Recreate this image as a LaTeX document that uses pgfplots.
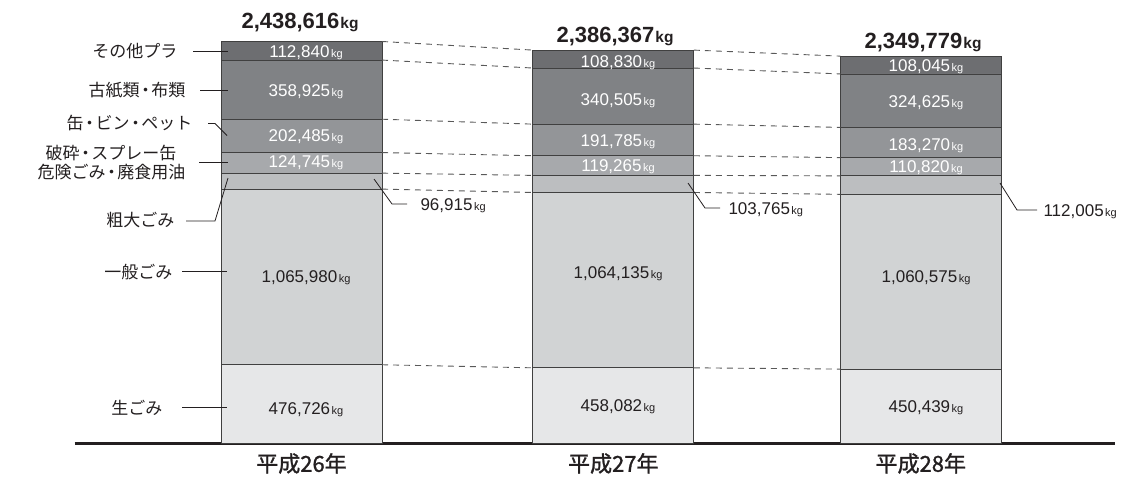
\documentclass[border=0pt]{standalone}
\usepackage{fontspec}
\setmainfont{Liberation Sans}
\newfontfamily\jp{Noto Sans CJK JP}
\newfontfamily\jpm{Noto Sans CJK JP}[FakeBold=1.2]
\usepackage{pgfplots}
\pgfplotsset{compat=1.18}

\definecolor{s1}{HTML}{E6E7E8}% 生ごみ
\definecolor{s2}{HTML}{D1D3D4}% 一般ごみ
\definecolor{s3}{HTML}{BCBEC0}% 粗大ごみ
\definecolor{s4}{HTML}{A7A9AC}% 危険ごみ
\definecolor{s5}{HTML}{939598}% 缶・ビン
\definecolor{s6}{HTML}{808285}% 古紙類
\definecolor{s7}{HTML}{6D6E71}% その他プラ
\definecolor{ink}{HTML}{231F20}

\newcommand\numf{\fontsize{17}{17}\selectfont}
\newcommand\kg{\kern1.5pt{\fontsize{11}{11}\selectfont kg}}
\newcommand\lab{\jp\fontsize{17}{17}\selectfont}
\newcommand\dt{\kern-.15em・\kern-.15em}

\pgfplotsset{
  base/.style={
    scale only axis, width=1040.3pt, height=443.3pt,
    xmin=74.7, xmax=1115, ymin=0, ymax=2690400,
    at={(74.7pt,-443.3pt)}, anchor=south west,
  },
  seg/.style={fill=#1, draw=black!75, line width=0.8pt},
  link/.style={draw=black!65, line width=0.9pt, dash pattern=on 6pt off 5pt},
}

\begin{document}
\begin{tikzpicture}
% stacked bars
\begin{axis}[base, ybar stacked, bar width=161,
    axis y line=none, axis x line=bottom,
    x axis line style={-, line width=2.4pt, color=ink},
    xtick={301.5,613.3,920.8}, xtick style={draw=none},
    xticklabels={平成26年,平成27年,平成28年},
    xticklabel style={font=\jpm\fontsize{22}{22}\selectfont,
      anchor=center, yshift=-18pt, text=ink},
  ]
\addplot[seg=s1] coordinates {(301.5,476726) (613.3,458082) (920.8,450439)};
\addplot[seg=s2] coordinates {(301.5,1065980) (613.3,1064135) (920.8,1060575)};
\addplot[seg=s3] coordinates {(301.5,96915) (613.3,103765) (920.8,112005)};
\addplot[seg=s4] coordinates {(301.5,124745) (613.3,119265) (920.8,110820)};
\addplot[seg=s5] coordinates {(301.5,202485) (613.3,191785) (920.8,183270)};
\addplot[seg=s6] coordinates {(301.5,358925) (613.3,340505) (920.8,324625)};
\addplot[seg=s7] coordinates {(301.5,112840) (613.3,108830) (920.8,108045)};
\end{axis}
% dashed links between the bars (cumulative heights)
\begin{axis}[base, hide axis, unbounded coords=jump]
\addplot[link] coordinates {(382,476726) (532.8,458082) (700,nan) (693.8,458082) (840.3,450439)};
\addplot[link] coordinates {(382,1542706) (532.8,1522217) (700,nan) (693.8,1522217) (840.3,1511014)};
\addplot[link] coordinates {(382,1639621) (532.8,1625982) (700,nan) (693.8,1625982) (840.3,1623019)};
\addplot[link] coordinates {(382,1764366) (532.8,1745247) (700,nan) (693.8,1745247) (840.3,1733839)};
\addplot[link] coordinates {(382,1966851) (532.8,1937032) (700,nan) (693.8,1937032) (840.3,1917109)};
\addplot[link] coordinates {(382,2325776) (532.8,2277537) (700,nan) (693.8,2277537) (840.3,2241734)};
\addplot[link] coordinates {(382,2438616) (532.8,2386367) (700,nan) (693.8,2386367) (840.3,2349779)};
\end{axis}

\begin{scope}[x=1pt, y=-1pt, lead/.style={draw=ink, line width=0.8pt}]
% totals
\begin{scope}[every node/.style={anchor=base, text=ink,
    font=\bfseries\fontsize{22}{22}\selectfont}]
\node at (300,28) {2,438,616\kern1pt{\fontsize{15.5}{15.5}\selectfont kg}};
\node at (615,42) {2,386,367\kern1pt{\fontsize{15.5}{15.5}\selectfont kg}};
\node at (923,48) {2,349,779\kern1pt{\fontsize{15.5}{15.5}\selectfont kg}};
\end{scope}
% values inside the bars
\begin{scope}[every node/.style={anchor=base, font=\numf}]
\node[text=white] at (306,57.5) {112,840\kg};
\node[text=white] at (306,96) {358,925\kg};
\node[text=white] at (306,141) {202,485\kg};
\node[text=white] at (306,167.4) {124,745\kg};
\node[text=ink] at (306,282) {1,065,980\kg};
\node[text=ink] at (306,414) {476,726\kg};
\node[text=white] at (618,67.6) {108,830\kg};
\node[text=white] at (618,105.2) {340,505\kg};
\node[text=white] at (618,146.6) {191,785\kg};
\node[text=white] at (618,171) {119,265\kg};
\node[text=ink] at (618,278) {1,064,135\kg};
\node[text=ink] at (618,411) {458,082\kg};
\node[text=white] at (926,71) {108,045\kg};
\node[text=white] at (926,107.6) {324,625\kg};
\node[text=white] at (926,150) {183,270\kg};
\node[text=white] at (926,172.6) {110,820\kg};
\node[text=ink] at (926,282) {1,060,575\kg};
\node[text=ink] at (926,412.6) {450,439\kg};
% 粗大ごみ values, outside
\node[anchor=base west, text=ink] at (417,210) {96,915\kg};
\node[anchor=base west, text=ink] at (725,214) {103,765\kg};
\node[anchor=base west, text=ink] at (1040,216) {112,005\kg};
\end{scope}
\draw[lead] (374,179) -- (392,204) -- (407,204);
\draw[lead] (688,183) -- (705,208) -- (720,208);
\draw[lead] (1000,183) -- (1017,210) -- (1037,210);
% category labels on the left
\begin{scope}[every node/.style={anchor=east, font=\lab, text=ink}]
\node at (181,51.5) {その他プラ};
\node at (189,90) {古紙類\dt 布類};
\node at (196,123) {缶\dt ビン\dt ペット};
\node at (180,153) {破砕\dt スプレー缶};
\node at (189,172) {危険ごみ\dt 廃食用油};
\node at (178,220) {粗大ごみ};
\node at (176,272.5) {一般ごみ};
\node at (166,408) {生ごみ};
\end{scope}
\draw[lead] (193,51.5) -- (228,51.5);
\draw[lead] (200,90) -- (228,90);
\draw[lead] (208,123.5) -- (215,123.5) -- (227,135.5);
\draw[lead] (199,162) -- (228,162);
\draw[lead] (186,221) -- (215,221) -- (228,178);
\draw[lead] (182,271.7) -- (227,271.7);
\draw[lead] (182,407) -- (227,407);
\pgfresetboundingbox
\path[use as bounding box] (0,0) rectangle (1129,479);
\end{scope}
\end{tikzpicture}
\end{document}
